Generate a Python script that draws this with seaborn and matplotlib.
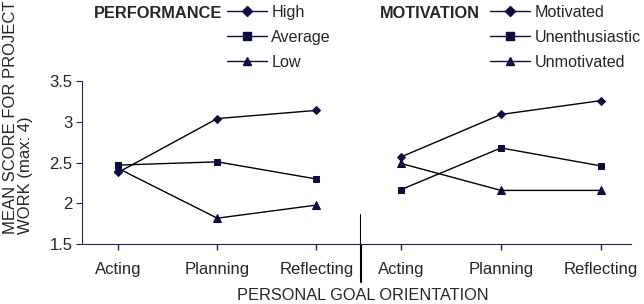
import matplotlib
matplotlib.use('Agg')
import matplotlib.pyplot as plt
from matplotlib.lines import Line2D
from matplotlib.ticker import FuncFormatter
import seaborn as sns
import pandas as pd

sns.set_style('white')
plt.rcParams['font.family'] = ['Liberation Sans', 'DejaVu Sans']

stages = ['Acting', 'Planning', 'Reflecting']

perf_groups = ['High', 'Average', 'Low']
perf_high = [2.38, 3.04, 3.14]
perf_average = [2.47, 2.51, 2.30]
perf_low = [2.43, 1.82, 1.98]

motiv_groups = ['Motivated', 'Unenthusiastic', 'Unmotivated']
motiv_motivated = [2.57, 3.09, 3.26]
motiv_unenthusiastic = [2.17, 2.68, 2.46]
motiv_unmotivated = [2.49, 2.16, 2.16]

markers = ['D', 's', '^']
msizes = [4.3, 4.8, 5.2]
leg_msizes = [5.2, 6, 6]
navy = '#0c0c40'
axcol = '#222260'


def make_df(groups, series):
    rows = []
    for g, vals in zip(groups, series):
        for i, (s, v) in enumerate(zip(stages, vals)):
            rows.append({'group': g, 'stage': s, 'pos': i, 'score': v})
    return pd.DataFrame(rows)


perf_df = make_df(perf_groups, [perf_high, perf_average, perf_low])
motiv_df = make_df(motiv_groups, [motiv_motivated, motiv_unenthusiastic, motiv_unmotivated])

W, H = 644, 304
fig = plt.figure(figsize=(W / 100, H / 100), dpi=100)
y_top, y_bot = 81, 244.3
ax1 = fig.add_axes([82 / W, (H - y_bot) / H, (361 - 82) / W, (y_bot - y_top) / H])
ax2 = fig.add_axes([361 / W, (H - y_bot) / H, (631 - 361) / W, (y_bot - y_top) / H])


def draw(ax, df, groups, xlim):
    for g, m, ms in zip(groups, markers, msizes):
        sub = df[df['group'] == g]
        sns.lineplot(data=sub, x='pos', y='score', ax=ax, color='black', lw=1,
                     marker=m, markersize=ms, markerfacecolor=navy,
                     markeredgecolor=navy, legend=False)
    ax.set_xlim(*xlim)
    ax.set_ylim(1.5, 3.5)
    ax.set_xticks(range(len(stages)))
    ax.set_xticklabels(stages, fontsize=12)
    ax.set_xlabel('')
    ax.set_ylabel('')
    for s in ['top', 'right', 'left']:
        ax.spines[s].set_visible(False)
    ax.spines['bottom'].set_color(axcol)
    ax.tick_params(axis='x', direction='out', length=4, color=axcol, width=1,
                   bottom=True, pad=9)


draw(ax1, perf_df, perf_groups, (-0.364, 2.45))
draw(ax2, motiv_df, motiv_groups, (-0.40, 2.30))

ax1.spines['left'].set_visible(True)
ax1.spines['left'].set_color(axcol)
ax1.set_yticks([1.5, 2, 2.5, 3, 3.5])
ax1.yaxis.set_major_formatter(FuncFormatter(lambda v, p: '%g' % v))
ax1.tick_params(axis='y', direction='out', length=4, color=axcol, labelsize=12, left=True, pad=3)
ax2.set_yticks([])

# divider between the two panels
ax1.plot([1, 1], [-0.23, 0.18], transform=ax1.transAxes, color='black', lw=1.5, clip_on=False)

fig.text(363 / W, 1 - 295 / H, 'PERSONAL GOAL ORIENTATION', ha='center', va='center', fontsize=11.8)

fig.text(18 / W, 1 - 234 / H, 'MEAN SCORE FOR PROJECT\nWORK (max: 4)', rotation=90,
         ha='center', va='bottom', fontsize=12, linespacing=1.0, multialignment='left')


# legends
def legend(title, title_right, groups, hx):
    fig.text(title_right / W, 1 - 13 / H, title, ha='right', va='center', fontsize=11.8,
             fontweight='bold')
    handles = [Line2D([], [], color=navy, lw=1, marker=m, markersize=ms,
                      markerfacecolor=navy, markeredgecolor=navy)
               for m, ms in zip(markers, leg_msizes)]
    fig.legend(handles, groups, loc='upper left', bbox_to_anchor=(hx / W, 1 - 5 / H),
               frameon=False, fontsize=11.6, handlelength=2.5, handletextpad=0.25,
               labelspacing=0.62, borderpad=0, borderaxespad=0)


legend('PERFORMANCE', 222, perf_groups, 227)
legend('MOTIVATION', 480, motiv_groups, 490)

fig.savefig('out.png', dpi=100)
